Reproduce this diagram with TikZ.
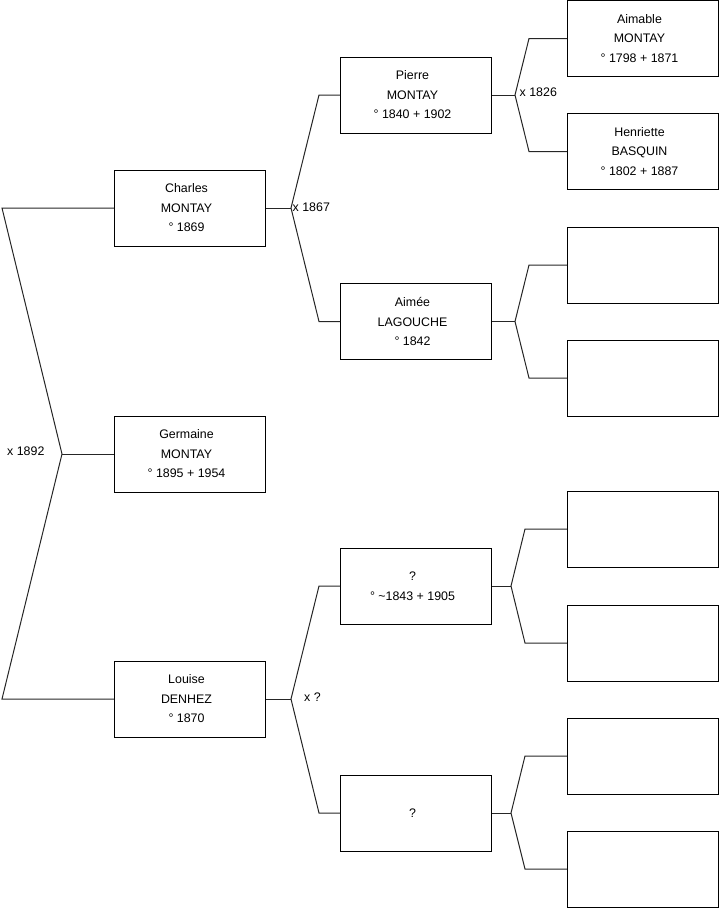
\documentclass[tikz,border=0pt]{standalone}
\usepackage{fontspec}
\setmainfont{Liberation Sans}
\begin{document}
\begin{tikzpicture}[x=1pt,y=-1pt,
  person/.style={draw=black,line width=1pt,minimum width=151pt,minimum height=76pt,inner sep=0pt},
  ptext/.style={align=center,inner sep=0pt,font=\fontsize{12.4}{19.5}\selectfont},
  link/.style={draw=black!85,line width=1pt,line join=miter},
  marr/.style={font=\fontsize{12.4}{15}\selectfont,inner sep=0pt}]
\useasboundingbox (0,0) rectangle (719,908);
% generation 1
\node[person] (charles) at (190,208) {};
\node[person] (germaine) at (190,454) {};
\node[person] (louise) at (190,699) {};
% generation 2
\node[person] (pierre) at (416,95) {};
\node[person] (aimee) at (416,321.5) {};
\node[person] (q1) at (416,586) {};
\node[person] (q2) at (416,813) {};
% generation 3
\node[person] (aimable) at (643,38.5) {};
\node[person] (henriette) at (643,151.5) {};
\node[person] (e3) at (643,265) {};
\node[person] (e4) at (643,378) {};
\node[person] (e5) at (643,529) {};
\node[person] (e6) at (643,643) {};
\node[person] (e7) at (643,756) {};
\node[person] (e8) at (643,869) {};
% box texts
\node[ptext] (charles-t) at ([xshift=-3.5pt]charles.center) {Charles\\MONTAY\\° 1869};
\node[ptext] (germaine-t) at ([xshift=-3.5pt]germaine.center) {Germaine\\MONTAY\\° 1895 + 1954};
\node[ptext] (louise-t) at ([xshift=-3.5pt]louise.center) {Louise\\DENHEZ\\° 1870};
\node[ptext] (pierre-t) at ([xshift=-3.5pt]pierre.center) {Pierre\\MONTAY\\° 1840 + 1902};
\node[ptext] (aimee-t) at ([xshift=-3.5pt]aimee.center) {Aimée\\LAGOUCHE\\° 1842};
\node[ptext] (q1-t) at ([xshift=-3.5pt]q1.center) {?\\° \textasciitilde1843 + 1905};
\node[ptext] (q2-t) at ([xshift=-3.5pt]q2.center) {?};
\node[ptext] (aimable-t) at ([xshift=-3.5pt]aimable.center) {Aimable\\MONTAY\\° 1798 + 1871};
\node[ptext] (henriette-t) at ([xshift=-3.5pt]henriette.center) {Henriette\\BASQUIN\\° 1802 + 1887};
% fork vertices
\coordinate (r1) at (2,208);
\coordinate (rv) at (62,454);
\coordinate (r2) at (2,699);
\coordinate (cv) at (291,208);
\coordinate (c1) at (319,95);
\coordinate (c2) at (319,321.5);
\coordinate (lv) at (291,699);
\coordinate (l1) at (319,586);
\coordinate (l2) at (319,813);
\coordinate (pv) at (515,95);
\coordinate (p1) at (529,38.5);
\coordinate (p2) at (529,151.5);
\coordinate (av) at (515,321.5);
\coordinate (a1) at (529,265);
\coordinate (a2) at (529,378);
\coordinate (qv) at (511,586);
\coordinate (q1a) at (525,529);
\coordinate (q1b) at (525,643);
\coordinate (wv) at (511,813);
\coordinate (w1) at (525,756);
\coordinate (w2) at (525,869);
% connectors
\draw[link] (charles.west) -- (r1) -- (rv) -- (r2) -- (louise.west);
\draw[link] (rv) -- (germaine.west);
\draw[link] (charles.east) -- (cv);
\draw[link] (pierre.west) -- (c1) -- (cv) -- (c2) -- (aimee.west);
\draw[link] (louise.east) -- (lv);
\draw[link] (q1.west) -- (l1) -- (lv) -- (l2) -- (q2.west);
\draw[link] (pierre.east) -- (pv);
\draw[link] (aimable.west) -- (p1) -- (pv) -- (p2) -- (henriette.west);
\draw[link] (aimee.east) -- (av);
\draw[link] (e3.west) -- (a1) -- (av) -- (a2) -- (e4.west);
\draw[link] (q1.east) -- (qv);
\draw[link] (e5.west) -- (q1a) -- (qv) -- (q1b) -- (e6.west);
\draw[link] (q2.east) -- (wv);
\draw[link] (e7.west) -- (w1) -- (wv) -- (w2) -- (e8.west);
% marriage labels
\node[marr,anchor=west] (m1892) at (7,451) {x 1892};
\node[marr,anchor=west] (m1867) at (292.5,207) {x 1867};
\node[marr,anchor=west] (m1826) at (519.5,92.5) {x 1826};
\node[marr,anchor=west] (mq) at (304,697.5) {x ?};
\end{tikzpicture}
\end{document}
